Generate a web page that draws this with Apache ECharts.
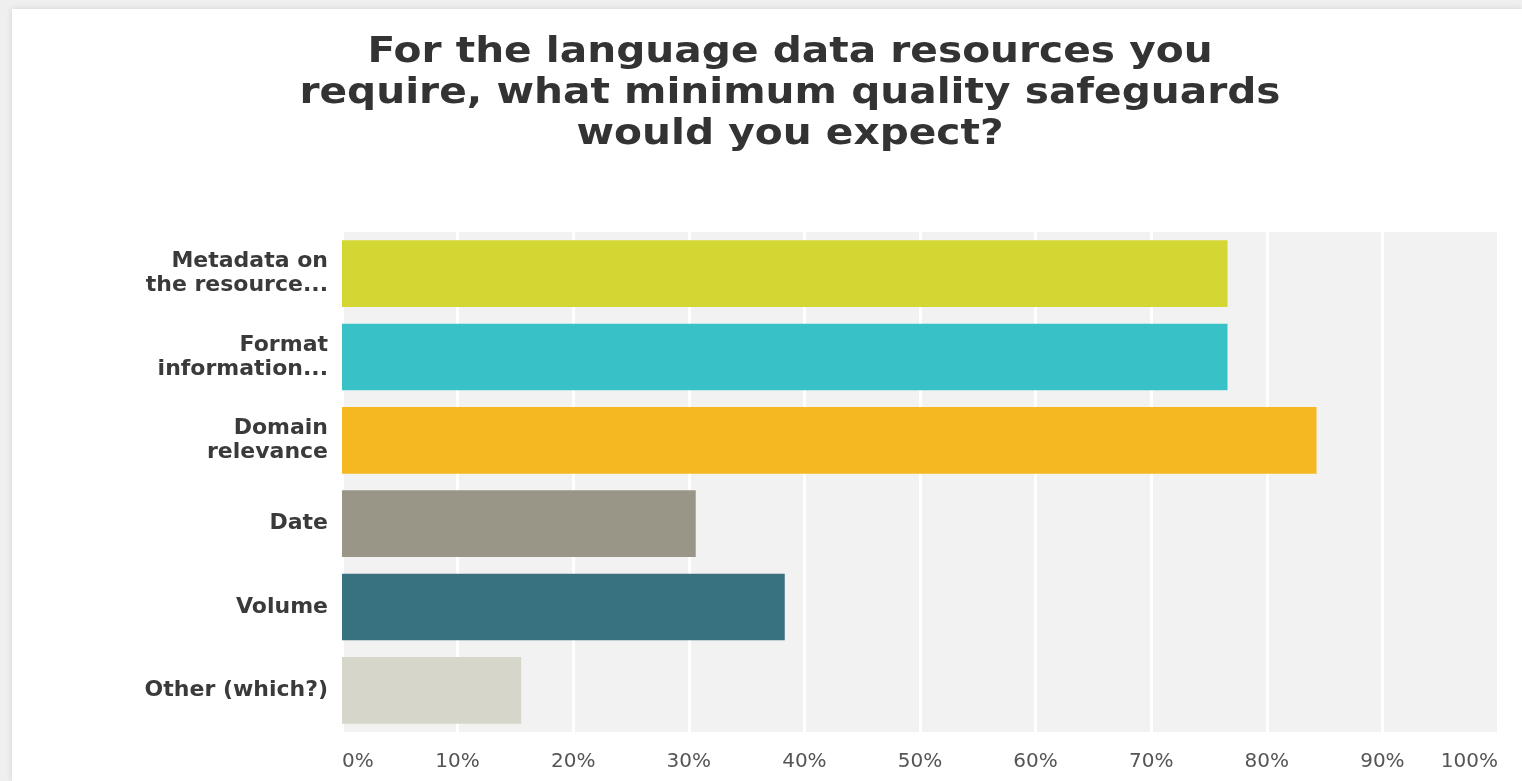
<!DOCTYPE html>
<html>
<head>
<meta charset="utf-8">
<title>Quality safeguards</title>
<script src="https://cdn.jsdelivr.net/npm/echarts@6/dist/echarts.min.js"></script>
<style>
  html, body { margin: 0; padding: 0; width: 1522px; height: 781px; overflow: hidden; background: #efefef; }
  #card { position: absolute; left: 12px; top: 9px; right: 0; bottom: 0; background: #fff; box-shadow: 0 0 6px rgba(0,0,0,0.12); }
  #chart { position: absolute; left: 0; top: 0; width: 1522px; height: 781px; }
</style>
</head>
<body>
<div id="card"></div>
<div id="chart"></div>
<script>
// survey answers, percent of respondents
const categories = ['Metadata on\nthe resource...', 'Format\ninformation...', 'Domain\nrelevance', 'Date', 'Volume', 'Other (which?)'];
const values = [76.6, 76.6, 84.3, 30.6, 38.3, 15.5];
const barColors = ['#d4d733', '#38c2c7', '#f5b820', '#999587', '#38717f', '#d6d6ca'];

const titleLines = ['For the language data resources you', 'require, what minimum quality safeguards', 'would you expect?'];

const myChart = echarts.init(document.getElementById('chart'), null, { renderer: 'canvas' });

const option = {
    animation: false,
    backgroundColor: 'transparent',
    // title drawn as a graphic text so it can be widened a bit like the screenshot
    graphic: [
        {
            type: 'text',
            x: 790,
            y: 32,
            scaleX: 1.13,
            style: {
                text: titleLines.join('\n'),
                align: 'center',
                verticalAlign: 'top',
                fontFamily: 'DejaVu Sans',
                fontWeight: 'bold',
                fontSize: 36,
                lineHeight: 41,
                fill: '#333'
            }
        }
    ],
    grid: {
        left: 342,
        right: 24,
        top: 232,
        bottom: 49,
        show: true,
        backgroundColor: '#f2f2f2',
        borderWidth: 0
    },
    xAxis: {
        type: 'value',
        min: 0,
        max: 100,
        interval: 10,
        axisLine: { show: false },
        axisTick: { show: false },
        splitLine: {
            show: true,
            lineStyle: { color: '#ffffff', width: 3 }
        },
        axisLabel: {
            formatter: '{value}%',
            fontFamily: 'DejaVu Sans',
            fontSize: 20,
            color: '#555',
            margin: 20,
            alignMinLabel: 'left',
            alignMaxLabel: 'right'
        }
    },
    yAxis: {
        type: 'category',
        data: categories,
        inverse: true,
        axisLine: { show: false },
        axisTick: { show: false },
        splitLine: { show: false },
        axisLabel: {
            fontFamily: 'DejaVu Sans',
            fontWeight: 'bold',
            fontSize: 22,
            lineHeight: 24,
            color: '#3a3a3a',
            margin: 14,
            align: 'right'
        }
    },
    series: [
        {
            type: 'bar',
            data: values.map((v, i) => ({ value: v, itemStyle: { color: barColors[i] } })),
            barCategoryGap: '20%'
        }
    ]
};

option && myChart.setOption(option);
</script>
</body>
</html>
